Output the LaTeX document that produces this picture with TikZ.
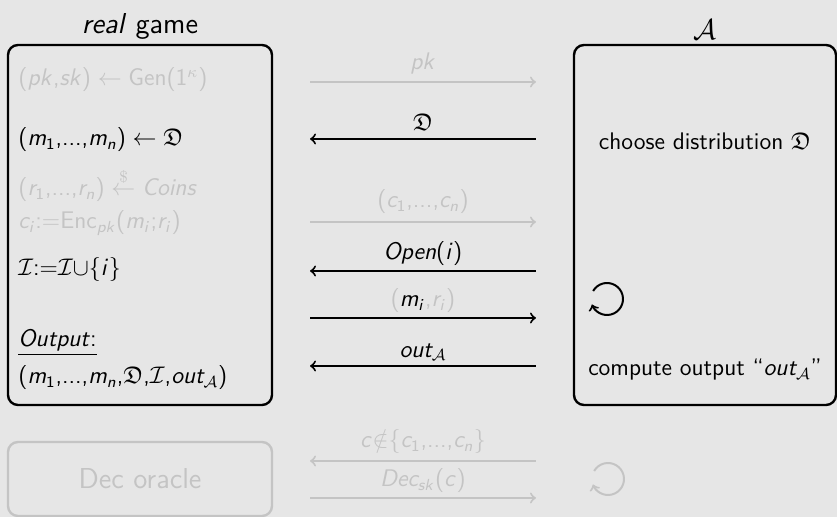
\documentclass[tikz,border=0pt]{standalone}
\usepackage{amssymb}
\usepackage{amsmath}
\usepackage{tikz}
\usetikzlibrary{positioning, arrows}
\renewcommand{\familydefault}{\sfdefault}
% slanted sans letters and upright sans digits in maths, as on the slide
\DeclareSymbolFont{sfslanted}{OT1}{cmss}{m}{sl}
\DeclareSymbolFont{sfupright}{OT1}{cmss}{m}{n}
\makeatletter
\@tfor\sfchar:=abcdefghijklmnopqrstuvwxyzABCDEFGHIJKLMNOPQRSTUVWXYZ\do{%
    \edef\sfnext{\noexpand\DeclareMathSymbol{\sfchar}{\noexpand\mathalpha}{sfslanted}{`\sfchar}}\sfnext}
\@tfor\sfchar:=0123456789\do{%
    \edef\sfnext{\noexpand\DeclareMathSymbol{\sfchar}{\noexpand\mathalpha}{sfupright}{`\sfchar}}\sfnext}
\makeatother
\DeclareMathSymbol{=}{\mathrel}{sfupright}{"3D}
\DeclareMathSymbol{:}{\mathrel}{sfupright}{"3A}
\DeclareMathSymbol{;}{\mathpunct}{sfupright}{"3B}
\DeclareMathSymbol{,}{\mathpunct}{sfupright}{"2C}
\DeclareMathDelimiter{(}{\mathopen}{sfupright}{"28}{largesymbols}{"00}
\DeclareMathDelimiter{)}{\mathclose}{sfupright}{"29}{largesymbols}{"01}
\newcommand{\tightdots}{{,}\text{...}{,}}
\definecolor{slideBg}{HTML}{E6E6E6}
\definecolor{faded}{HTML}{C4C4C4}
\tikzset{
    >=to, % plain open arrow heads
    every node/.style={inner sep=2pt, font=\large}, % slide text size
    x=0.5pt, y=-0.5pt, % one unit is one pixel of the slide
}

\begin{document}
\begin{tikzpicture}[
                                styleBox/.style={draw, line width=1.2pt, rounded corners=5pt, minimum width=132pt, minimum height=180pt},
                                styleLine/.style={anchor=west},
                                styleMsg/.style={line width=1pt},
                                styleFaded/.style={color=faded},
                                styleTitle/.style={font=\Large},
                            ]
                            \fill[slideBg] (0,0) rectangle (837,517);
                            \useasboundingbox (0,0) rectangle (837,517);
                            % the two parties
                            \node[styleBox] (realBox) at (140,225) {};
                            \node[styleBox, minimum width=131pt] (advBox) at (705,225) {};
                            \node[styleBox, styleFaded, minimum height=37pt] (decBox) at (140,479) {\Large Dec oracle};
                            \node[above=0pt of realBox, styleTitle] (realTitle) {\textit{real} game};
                            \node[above=0pt of advBox, styleTitle] (advTitle) {$\mathcal{A}$};
                            % what the game does
                            \node[styleLine, styleFaded] (genLine) at (14,80) {$(pk{,}sk) \leftarrow \text{Gen}(1^\kappa)$};
                            \node[styleLine] (msgLine) at (14,140) {$(m_1\tightdots m_n) \leftarrow \mathfrak{D}$};
                            \node[styleLine, styleFaded] (coinLine) at (14,185) {$(r_1\tightdots r_n) \stackrel{\$}{\leftarrow} \textit{Coins}$};
                            \node[styleLine, styleFaded] (encLine) at (14,223) {$c_i{:=}\text{Enc}_{pk}(m_i{;}r_i)$};
                            \node[styleLine] (setLine) at (14,270) {$\mathcal{I}{:=}\mathcal{I}{\cup}\{i\}$};
                            \node[styleLine] (outLabel) at (14,343) {\underline{\textit{Output}:}};
                            \node[styleLine] (outLine) at (14,378) {$(m_1\tightdots m_n{,}\mathfrak{D}{,}\mathcal{I}{,}out_{\mathcal{A}})$};
                            % what the adversary does
                            \node (chooseText) at (705,141) {choose distribution $\mathfrak{D}$};
                            \node (computeText) at (705,370) {compute output ``$out_{\mathcal{A}}$''};
                            \coordinate (loopAdv) at (607,299);
                            \coordinate (loopDec) at (608,479);
                            \draw[->, styleMsg] (loopAdv) ++(150:8pt) arc[start angle=150, end angle=-160, radius=8pt];
                            \draw[->, styleMsg, styleFaded] (loopDec) ++(150:8pt) arc[start angle=150, end angle=-160, radius=8pt];
                            % messages
                            \foreach \name/\y in {msgPk/82, msgDist/139, msgCts/222, msgOpen/271, msgOpening/318, msgOut/366, msgQuery/461, msgAnswer/498}
                            {
                                \coordinate (\name-l) at (310,\y);
                                \coordinate (\name-r) at (536,\y);
                            }
                            \draw[->, styleMsg, styleFaded] (msgPk-l) -- node[above=1.5pt] {$pk$} (msgPk-r);
                            \draw[<-, styleMsg] (msgDist-l) -- node[above=1.5pt] {$\mathfrak{D}$} (msgDist-r);
                            \draw[->, styleMsg, styleFaded] (msgCts-l) -- node[above=1.5pt] {$(c_1\tightdots c_n)$} (msgCts-r);
                            \draw[<-, styleMsg] (msgOpen-l) -- node[above] {$\textit{Open}(i)$} (msgOpen-r);
                            \draw[->, styleMsg] (msgOpening-l) -- node[above, text=faded] {$(\color{black}m_i\color{faded}{,}r_i)$} (msgOpening-r);
                            \draw[<-, styleMsg] (msgOut-l) -- node[above] {$out_{\mathcal{A}}$} (msgOut-r);
                            \draw[<-, styleMsg, styleFaded] (msgQuery-l) -- node[above=1pt] {$c{\notin}\{c_1\tightdots c_n\}$} (msgQuery-r);
                            \draw[->, styleMsg, styleFaded] (msgAnswer-l) -- node[above] {$Dec_{sk}(c)$} (msgAnswer-r);
                        \end{tikzpicture}
\end{document}
